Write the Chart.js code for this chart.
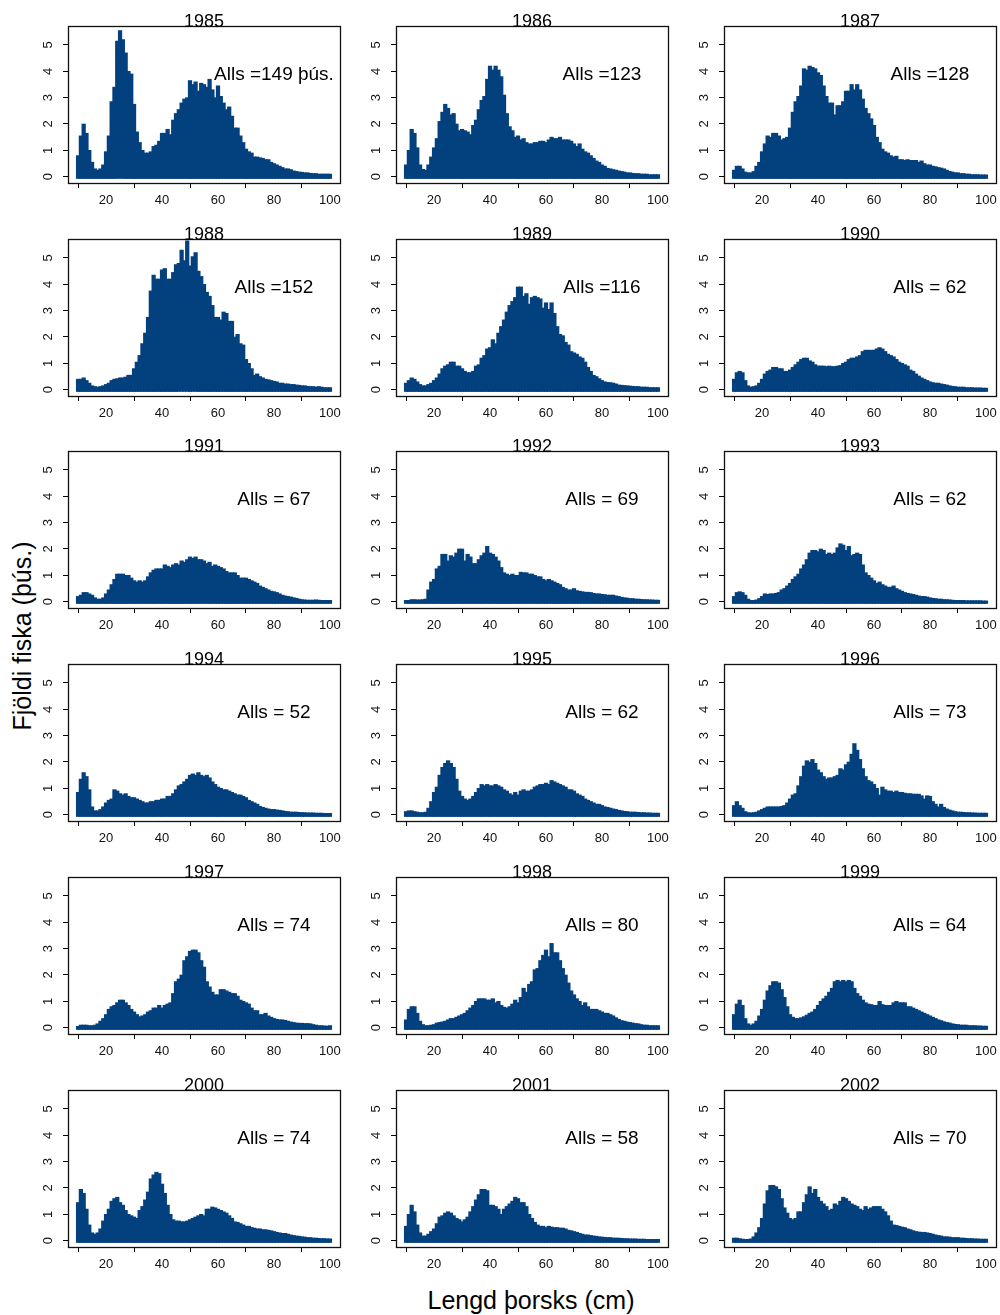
<!DOCTYPE html>
<html>
<head>
<meta charset="utf-8">
<script src="https://cdn.jsdelivr.net/npm/chart.js@4.4.1/dist/chart.umd.min.js"></script>
<style>
  body { margin: 0; background: #fff; }
  #page { position: relative; width: 1000px; height: 1315px; font-family: "Liberation Sans", Arial, sans-serif; overflow: hidden; }
  #page canvas { position: absolute; }
  .axis-title { position: absolute; font-size: 25px; color: #000; white-space: nowrap; line-height: 1; }
  #xtitle { left: 531px; top: 1300px; transform: translate(-50%, -50%); }
  #ytitle { left: 22px; top: 636px; transform: translate(-50%, -50%) rotate(-90deg); }
</style>
</head>
<body>
<div id="page">
  <div class="axis-title" id="xtitle">Lengd þorsks (cm)</div>
  <div class="axis-title" id="ytitle">Fjöldi fiska (þús.)</div>
</div>
<script>
// length classes (cm)
const lengths = [
  10, 11, 12, 13, 14, 15, 16, 17, 18, 19,
  20, 21, 22, 23, 24, 25, 26, 27, 28, 29,
  30, 31, 32, 33, 34, 35, 36, 37, 38, 39,
  40, 41, 42, 43, 44, 45, 46, 47, 48, 49,
  50, 51, 52, 53, 54, 55, 56, 57, 58, 59,
  60, 61, 62, 63, 64, 65, 66, 67, 68, 69,
  70, 71, 72, 73, 74, 75, 76, 77, 78, 79,
  80, 81, 82, 83, 84, 85, 86, 87, 88, 89,
  90, 91, 92, 93, 94, 95, 96, 97, 98, 99,
  100
];
const xTicks = [20, 40, 60, 80, 100];
const yTicks = [0, 1, 2, 3, 4, 5];

const years = ['1985', '1986', '1987', '1988', '1989', '1990', '1991', '1992', '1993',
               '1994', '1995', '1996', '1997', '1998', '1999', '2000', '2001', '2002'];
const allsLabels = ['Alls =149 þús.', 'Alls =123', 'Alls =128', 'Alls =152', 'Alls =116', 'Alls = 62',
                    'Alls = 67', 'Alls = 69', 'Alls = 62', 'Alls = 52', 'Alls = 62', 'Alls = 73',
                    'Alls = 74', 'Alls = 80', 'Alls = 64', 'Alls = 74', 'Alls = 58', 'Alls = 70'];

// numbers (thousands) per length class, one array per year
const y1985 = [
  0.8, 1.55, 2.0, 1.65, 1.0, 0.55, 0.3, 0.25, 0.3, 0.45,
  0.95, 1.55, 2.85, 3.4, 5.15, 5.55, 5.2, 4.7, 4.0, 3.9,
  2.75, 1.7, 1.3, 1.0, 0.9, 0.9, 0.95, 1.15, 1.2, 1.35,
  1.65, 1.65, 1.8, 1.6, 2.15, 2.4, 2.55, 2.8, 2.95, 3.0,
  3.65, 3.5, 3.6, 3.25, 3.55, 3.5, 3.4, 3.7, 3.3, 3.0,
  3.45, 3.05, 2.8, 2.55, 2.65, 2.3, 1.85, 1.85, 1.55, 1.3,
  1.05, 0.95, 0.9, 0.75, 0.75, 0.72, 0.7, 0.65, 0.65, 0.55,
  0.5, 0.45, 0.4, 0.35, 0.3, 0.3, 0.27, 0.22, 0.2, 0.18,
  0.17, 0.15, 0.15, 0.13, 0.12, 0.12, 0.1, 0.1, 0.1, 0.1,
  0.1
];
const y1986 = [
  0.45, 1.0, 1.8, 1.65, 1.1, 0.45, 0.28, 0.25, 0.45, 0.75,
  1.1, 1.45, 2.1, 2.45, 2.75, 2.6, 2.35, 2.4, 2.0, 1.75,
  1.8, 1.75, 1.7, 1.6, 1.95, 2.15, 2.55, 2.9, 3.05, 3.7,
  4.2, 4.05, 4.2, 4.05, 3.8, 3.1, 2.4, 1.9, 1.75, 1.5,
  1.55, 1.4, 1.45, 1.3, 1.25, 1.25, 1.3, 1.3, 1.35, 1.35,
  1.3, 1.4, 1.5, 1.45, 1.45, 1.5, 1.4, 1.4, 1.4, 1.35,
  1.25, 1.15, 1.25, 1.05, 0.95, 0.9, 0.8, 0.7, 0.6, 0.55,
  0.45, 0.4, 0.32, 0.3, 0.27, 0.25, 0.22, 0.2, 0.18, 0.15,
  0.15, 0.13, 0.12, 0.12, 0.1, 0.1, 0.1, 0.08, 0.08, 0.08,
  0.08
];
const y1987 = [
  0.25, 0.4, 0.4, 0.3, 0.18, 0.15, 0.15, 0.2, 0.4, 0.55,
  0.95, 1.25, 1.55, 1.5, 1.65, 1.65, 1.55, 1.4, 1.45, 1.5,
  1.85, 2.45, 2.85, 3.05, 3.45, 4.1, 4.05, 4.2, 4.15, 4.1,
  3.95, 3.85, 3.45, 3.05, 2.8, 2.8, 2.35, 2.7, 2.7, 2.85,
  3.25, 3.25, 3.5, 3.3, 3.5, 3.3, 2.95, 2.6, 2.4, 2.2,
  1.95, 1.5, 1.3, 1.05, 0.95, 0.9, 0.8, 0.75, 0.78, 0.65,
  0.65, 0.62, 0.65, 0.62, 0.62, 0.62, 0.55, 0.6, 0.5, 0.45,
  0.45, 0.4, 0.38, 0.35, 0.33, 0.3, 0.25, 0.2, 0.18, 0.15,
  0.15, 0.12, 0.12, 0.1, 0.1, 0.08, 0.08, 0.08, 0.07, 0.07,
  0.07
];
const y1988 = [
  0.4, 0.4, 0.45, 0.35, 0.25, 0.15, 0.12, 0.1, 0.12, 0.15,
  0.2, 0.25, 0.35, 0.4, 0.42, 0.45, 0.45, 0.48, 0.55, 0.55,
  0.8, 1.05, 1.3, 1.75, 2.15, 2.75, 3.75, 4.35, 4.2, 4.2,
  4.55, 4.6, 4.2, 4.2, 4.45, 4.75, 4.8, 5.3, 4.9, 5.65,
  4.7, 5.05, 5.2, 4.5, 4.3, 4.0, 3.7, 3.55, 3.2, 2.75,
  2.75, 2.65, 2.95, 2.9, 2.6, 2.6, 2.0, 2.1, 1.75, 1.7,
  1.15, 1.0, 0.8, 0.55, 0.6, 0.5, 0.45, 0.4, 0.38, 0.35,
  0.32, 0.3, 0.25, 0.25, 0.22, 0.22, 0.2, 0.2, 0.18, 0.17,
  0.15, 0.15, 0.13, 0.12, 0.12, 0.1, 0.12, 0.1, 0.08, 0.08,
  0.08
];
const y1989 = [
  0.25, 0.35, 0.45, 0.4, 0.3, 0.2, 0.15, 0.15, 0.2, 0.25,
  0.35, 0.45, 0.6, 0.8, 0.9, 0.95, 1.05, 1.05, 0.9, 0.9,
  0.8, 0.7, 0.65, 0.65, 0.7, 0.9, 0.95, 1.2, 1.3, 1.55,
  1.6, 1.9, 1.75, 2.15, 2.4, 2.65, 2.95, 3.2, 3.35, 3.5,
  3.9, 3.9, 3.55, 3.65, 3.25, 3.5, 3.55, 3.5, 3.45, 3.1,
  3.3, 3.05, 3.3, 2.9, 2.4, 2.1, 2.05, 1.8, 1.7, 1.45,
  1.4, 1.35, 1.25, 1.2, 1.05, 0.85, 0.7, 0.55, 0.5, 0.42,
  0.35, 0.3, 0.28, 0.27, 0.25, 0.22, 0.18, 0.17, 0.16, 0.15,
  0.14, 0.13, 0.12, 0.12, 0.1, 0.1, 0.1, 0.08, 0.08, 0.08,
  0.08
];
const y1990 = [
  0.4, 0.65, 0.7, 0.65, 0.35, 0.15, 0.1, 0.12, 0.15, 0.25,
  0.4, 0.6, 0.7, 0.75, 0.85, 0.85, 0.8, 0.8, 0.7, 0.7,
  0.75, 0.85, 0.95, 1.05, 1.15, 1.2, 1.2, 1.1, 1.05, 0.95,
  0.9, 0.9, 0.9, 0.88, 0.9, 0.88, 0.88, 0.9, 0.92, 1.0,
  1.05, 1.15, 1.2, 1.2, 1.25, 1.3, 1.45, 1.5, 1.5, 1.5,
  1.5, 1.55, 1.6, 1.55, 1.45, 1.35, 1.3, 1.25, 1.15, 1.05,
  1.0, 0.95, 0.9, 0.75, 0.7, 0.6, 0.52, 0.45, 0.4, 0.35,
  0.3, 0.27, 0.25, 0.25, 0.22, 0.2, 0.18, 0.15, 0.13, 0.12,
  0.1, 0.1, 0.1, 0.08, 0.08, 0.08, 0.07, 0.07, 0.07, 0.06,
  0.06
];
const y1991 = [
  0.2, 0.25, 0.35, 0.35, 0.3, 0.25, 0.15, 0.1, 0.1, 0.15,
  0.3, 0.45, 0.65, 0.85, 1.05, 1.05, 1.05, 1.0, 1.0, 0.9,
  0.8, 0.75, 0.8, 0.75, 0.8, 0.95, 1.1, 1.2, 1.25, 1.25,
  1.25, 1.4, 1.35, 1.3, 1.4, 1.45, 1.4, 1.55, 1.5, 1.6,
  1.7, 1.65, 1.7, 1.6, 1.6, 1.55, 1.45, 1.5, 1.35, 1.4,
  1.35, 1.3, 1.25, 1.15, 1.1, 1.1, 1.1, 1.0, 0.9, 0.9,
  0.9, 0.85, 0.8, 0.75, 0.7, 0.6, 0.55, 0.5, 0.45, 0.4,
  0.38, 0.35, 0.3, 0.25, 0.22, 0.2, 0.18, 0.15, 0.13, 0.1,
  0.08, 0.07, 0.06, 0.06, 0.06, 0.07, 0.06, 0.05, 0.05, 0.05,
  0.05
];
const y1992 = [
  0.05, 0.05, 0.08, 0.08, 0.07, 0.07, 0.08, 0.1, 0.45, 0.75,
  0.85, 1.25, 1.35, 1.8, 1.8, 1.55, 1.75, 1.7, 1.85, 2.0,
  2.0, 1.55, 1.8, 1.7, 1.45, 1.45, 1.6, 1.75, 1.85, 2.1,
  1.85, 1.8, 1.7, 1.55, 1.3, 1.1, 1.05, 1.0, 1.05, 1.0,
  1.0, 1.12, 1.1, 1.1, 1.05, 1.05, 1.0, 0.95, 0.95, 0.85,
  0.8, 0.85, 0.8, 0.75, 0.7, 0.65, 0.55, 0.5, 0.45, 0.45,
  0.5, 0.42, 0.4, 0.38, 0.36, 0.36, 0.35, 0.32, 0.3, 0.3,
  0.28, 0.27, 0.25, 0.25, 0.25, 0.22, 0.2, 0.17, 0.15, 0.14,
  0.12, 0.12, 0.1, 0.1, 0.09, 0.08, 0.08, 0.07, 0.07, 0.06,
  0.06
];
const y1993 = [
  0.2, 0.35, 0.38, 0.35, 0.25, 0.1, 0.05, 0.05, 0.07, 0.12,
  0.2, 0.3, 0.28, 0.3, 0.3, 0.32, 0.35, 0.45, 0.5, 0.6,
  0.7, 0.85, 0.95, 1.05, 1.25, 1.4, 1.6, 1.85, 1.95, 1.95,
  1.9, 2.0, 1.95, 1.8, 1.85, 1.8, 1.85, 2.05, 2.2, 2.15,
  1.95, 2.1, 1.75, 1.8, 1.85, 1.8, 1.4, 1.1, 1.0, 0.9,
  0.8, 0.7, 0.75, 0.65, 0.6, 0.55, 0.55, 0.6, 0.5, 0.45,
  0.4, 0.35, 0.32, 0.3, 0.28, 0.25, 0.22, 0.2, 0.2, 0.18,
  0.15, 0.13, 0.12, 0.1, 0.1, 0.08, 0.08, 0.07, 0.06, 0.05,
  0.05, 0.05, 0.05, 0.04, 0.04, 0.04, 0.04, 0.04, 0.04, 0.03,
  0.03
];
const y1994 = [
  0.85, 1.35, 1.6, 1.45, 0.95, 0.3, 0.15, 0.15, 0.2, 0.3,
  0.45, 0.55, 0.6, 0.95, 0.9, 0.8, 0.75, 0.8, 0.7, 0.65,
  0.65, 0.6, 0.55, 0.5, 0.45, 0.45, 0.5, 0.5, 0.55, 0.55,
  0.6, 0.6, 0.7, 0.7, 0.8, 0.95, 1.1, 1.15, 1.25, 1.35,
  1.5, 1.55, 1.5, 1.6, 1.5, 1.45, 1.5, 1.4, 1.25, 1.15,
  1.05, 1.0, 0.95, 0.95, 0.9, 0.85, 0.8, 0.75, 0.75, 0.7,
  0.65, 0.55, 0.5, 0.45, 0.4, 0.32, 0.28, 0.25, 0.22, 0.2,
  0.2, 0.18, 0.17, 0.15, 0.13, 0.12, 0.1, 0.1, 0.1, 0.09,
  0.08, 0.08, 0.07, 0.07, 0.07, 0.06, 0.06, 0.06, 0.05, 0.05,
  0.05
];
const y1995 = [
  0.12, 0.15, 0.15, 0.12, 0.1, 0.08, 0.08, 0.1, 0.25, 0.5,
  0.85, 1.05, 1.5, 1.8, 1.95, 2.05, 1.95, 1.8, 1.35, 0.9,
  0.7, 0.6, 0.55, 0.6, 0.7, 0.85, 1.0, 1.15, 1.1, 1.15,
  1.1, 1.1, 1.15, 1.1, 1.05, 0.95, 0.9, 0.8, 0.75, 0.85,
  0.75, 0.9, 0.95, 0.9, 0.9, 0.95, 1.05, 1.1, 1.15, 1.15,
  1.2, 1.15, 1.3, 1.25, 1.2, 1.15, 1.1, 1.05, 0.95, 0.95,
  0.9, 0.8, 0.75, 0.7, 0.6, 0.55, 0.5, 0.45, 0.4, 0.4,
  0.35, 0.3, 0.28, 0.25, 0.22, 0.2, 0.17, 0.15, 0.13, 0.12,
  0.1, 0.1, 0.1, 0.09, 0.08, 0.08, 0.07, 0.07, 0.06, 0.06,
  0.06
];
const y1996 = [
  0.35, 0.5, 0.35, 0.25, 0.12, 0.08, 0.07, 0.08, 0.1, 0.15,
  0.2, 0.25, 0.3, 0.3, 0.3, 0.3, 0.3, 0.32, 0.35, 0.45,
  0.6, 0.75, 0.8, 1.1, 1.45, 1.85, 2.05, 2.0, 2.1, 1.95,
  1.7, 1.6, 1.45, 1.35, 1.4, 1.4, 1.45, 1.5, 1.75, 1.7,
  1.9, 2.0, 2.3, 2.7, 2.45, 2.1, 1.75, 1.45, 1.3, 1.25,
  1.15, 1.0, 0.75, 1.05, 0.95, 0.9, 0.9, 0.85, 0.9, 0.85,
  0.85, 0.82, 0.8, 0.8, 0.78, 0.78, 0.78, 0.72, 0.6, 0.72,
  0.7, 0.5, 0.4, 0.3, 0.4, 0.28, 0.22, 0.18, 0.15, 0.12,
  0.1, 0.1, 0.09, 0.08, 0.08, 0.07, 0.07, 0.06, 0.06, 0.06,
  0.06
];
const y1997 = [
  0.05, 0.1, 0.1, 0.1, 0.08, 0.08, 0.1, 0.15, 0.25, 0.35,
  0.5, 0.7, 0.8, 0.85, 0.95, 1.05, 1.05, 0.95, 0.85, 0.7,
  0.6, 0.5, 0.42, 0.45, 0.5, 0.6, 0.65, 0.75, 0.75, 0.85,
  0.75, 0.85, 0.9, 0.95, 1.3, 1.75, 1.85, 2.0, 2.55, 2.7,
  2.9, 2.95, 2.95, 2.85, 2.55, 2.3, 1.75, 1.55, 1.35, 1.25,
  1.25, 1.45, 1.45, 1.4, 1.35, 1.3, 1.3, 1.2, 1.05, 1.0,
  0.95, 0.9, 0.75, 0.65, 0.65, 0.5, 0.5, 0.55, 0.45, 0.4,
  0.35, 0.32, 0.3, 0.3, 0.28, 0.25, 0.22, 0.2, 0.18, 0.17,
  0.17, 0.16, 0.16, 0.15, 0.12, 0.1, 0.08, 0.08, 0.07, 0.06,
  0.08
];
const y1998 = [
  0.3, 0.7, 0.8, 0.8, 0.55, 0.25, 0.12, 0.08, 0.08, 0.1,
  0.12, 0.18, 0.2, 0.22, 0.25, 0.3, 0.35, 0.35, 0.4, 0.45,
  0.5, 0.55, 0.65, 0.75, 0.85, 1.0, 1.1, 1.1, 1.1, 1.05,
  1.05, 1.1, 0.95, 1.0, 0.85, 0.78, 0.75, 0.8, 0.9, 1.05,
  0.95, 1.15, 1.5, 1.35, 1.65, 1.75, 2.2, 2.25, 2.55, 2.75,
  2.95, 2.7, 3.2, 2.85, 2.85, 2.55, 2.25, 2.0, 1.7, 1.4,
  1.25, 1.1, 1.0, 0.85, 0.95, 0.8, 0.7, 0.7, 0.7, 0.65,
  0.6, 0.55, 0.55, 0.5, 0.45, 0.38, 0.32, 0.27, 0.25, 0.22,
  0.2, 0.18, 0.16, 0.15, 0.12, 0.1, 0.1, 0.08, 0.08, 0.08,
  0.08
];
const y1999 = [
  0.5, 0.9, 1.05, 0.85, 0.35, 0.15, 0.1, 0.15, 0.25, 0.45,
  0.7, 1.05, 1.4, 1.6, 1.75, 1.75, 1.7, 1.45, 1.15, 0.8,
  0.5, 0.4, 0.35, 0.35, 0.38, 0.42, 0.48, 0.55, 0.6, 0.7,
  0.85, 1.0, 1.1, 1.2, 1.35, 1.5, 1.75, 1.8, 1.75, 1.8,
  1.75, 1.8, 1.75, 1.5, 1.3, 1.2, 1.05, 0.95, 0.9, 0.88,
  0.85, 0.85, 1.0, 0.88, 0.85, 0.85, 0.85, 0.95, 1.0, 0.95,
  0.95, 0.95, 0.8, 0.8, 0.75, 0.7, 0.65, 0.6, 0.55, 0.5,
  0.45, 0.4, 0.35, 0.3, 0.27, 0.23, 0.2, 0.18, 0.15, 0.13,
  0.12, 0.1, 0.1, 0.1, 0.08, 0.08, 0.08, 0.07, 0.07, 0.06,
  0.06
];
const y2000 = [
  1.45, 1.95, 1.8, 1.2, 0.6, 0.3, 0.25, 0.3, 0.45, 0.75,
  1.0, 1.2, 1.5, 1.6, 1.65, 1.45, 1.35, 1.15, 1.0, 0.95,
  0.9, 0.85, 1.15, 1.3, 1.55, 1.85, 2.35, 2.5, 2.6, 2.55,
  2.15, 1.8, 1.35, 1.0, 0.8, 0.75, 0.75, 0.72, 0.72, 0.75,
  0.8, 0.85, 0.9, 0.95, 1.0, 0.95, 1.2, 1.2, 1.28, 1.25,
  1.2, 1.15, 1.1, 1.05, 0.95, 0.85, 0.72, 0.7, 0.65, 0.6,
  0.55, 0.55, 0.5, 0.48, 0.45, 0.45, 0.42, 0.42, 0.4, 0.38,
  0.35, 0.32, 0.3, 0.28, 0.28, 0.25, 0.22, 0.2, 0.18, 0.17,
  0.15, 0.14, 0.12, 0.12, 0.1, 0.1, 0.09, 0.08, 0.08, 0.07,
  0.07
];
const y2001 = [
  0.55, 1.0, 1.35, 1.1, 0.6, 0.3, 0.18, 0.18, 0.25, 0.35,
  0.45, 0.65, 0.9, 0.95, 1.05, 1.1, 1.05, 0.95, 0.85, 0.8,
  0.72, 0.8, 0.9, 1.1, 1.3, 1.55, 1.75, 1.95, 1.95, 1.9,
  1.35, 1.35, 1.3, 1.2, 1.0, 1.2, 1.3, 1.4, 1.5, 1.65,
  1.6, 1.45, 1.45, 1.3, 1.0, 0.85, 0.7, 0.6, 0.55, 0.55,
  0.5, 0.55, 0.52, 0.5, 0.5, 0.48, 0.48, 0.45, 0.4, 0.38,
  0.35, 0.32, 0.28, 0.25, 0.22, 0.22, 0.2, 0.18, 0.17, 0.15,
  0.14, 0.13, 0.12, 0.12, 0.1, 0.1, 0.1, 0.09, 0.08, 0.08,
  0.07, 0.07, 0.07, 0.06, 0.06, 0.06, 0.05, 0.05, 0.05, 0.05,
  0.05
];
const y2002 = [
  0.1, 0.1, 0.08, 0.06, 0.05, 0.05, 0.07, 0.15, 0.3, 0.5,
  0.85, 1.4, 1.9, 2.1, 2.1, 2.05, 1.95, 1.6, 1.25, 1.05,
  0.85, 0.8, 0.85, 1.1, 1.1, 1.45, 1.75, 2.05, 1.8, 1.95,
  1.65, 1.5, 1.4, 1.3, 1.15, 1.2, 1.4, 1.35, 1.5, 1.65,
  1.6, 1.5, 1.4, 1.35, 1.3, 1.2, 1.15, 1.3, 1.2, 1.25,
  1.3, 1.3, 1.3, 1.2, 1.1, 0.95, 0.75, 0.6, 0.58, 0.55,
  0.52, 0.5, 0.45, 0.42, 0.38, 0.35, 0.33, 0.32, 0.32, 0.3,
  0.28, 0.25, 0.22, 0.2, 0.18, 0.15, 0.15, 0.14, 0.12, 0.12,
  0.12, 0.1, 0.1, 0.09, 0.08, 0.08, 0.07, 0.07, 0.06, 0.06,
  0.06
];

const counts = [y1985, y1986, y1987, y1988, y1989, y1990, y1991, y1992, y1993,
                y1994, y1995, y1996, y1997, y1998, y1999, y2000, y2001, y2002];

const BLUE = '#03407E';
const FONT = '"Liberation Sans", Arial, Helvetica, sans-serif';

// panel geometry (plot box inside each canvas)
const BOX_W = 272, BOX_H = 157;
const PAD_L = 62, PAD_T = 26, PAD_R = 12, PAD_B = 34;

// year title, "Alls" text and the frame around the plot area
const panelText = {
  id: 'panelText',
  afterDraw(chart, args, opts) {
    const { ctx, chartArea: a, scales } = chart;
    ctx.save();
    ctx.strokeStyle = '#111';
    ctx.lineWidth = 1.3;
    ctx.strokeRect(Math.round(a.left) + 0.5, Math.round(a.top) + 0.5,
                   Math.round(a.right - a.left), Math.round(a.bottom - a.top));
    ctx.fillStyle = '#000';
    ctx.textAlign = 'center';
    ctx.textBaseline = 'alphabetic';
    ctx.font = '18px ' + FONT;
    ctx.fillText(opts.year, (a.left + a.right) / 2, a.top + 1);
    ctx.textBaseline = 'middle';
    ctx.font = '19px ' + FONT;
    ctx.fillText(opts.alls, scales.x.getPixelForValue(80), scales.y.getPixelForValue(3.85));
    ctx.restore();
  }
};

const page = document.getElementById('page');

counts.forEach((series, i) => {
  const col = i % 3, row = Math.floor(i / 3);
  const boxLeft = 68 + 328 * col;
  const boxTop = Math.round(26 + 212.7 * row);

  const canvas = document.createElement('canvas');
  canvas.width = PAD_L + BOX_W + PAD_R;
  canvas.height = PAD_T + BOX_H + PAD_B;
  canvas.style.left = (boxLeft - PAD_L) + 'px';
  canvas.style.top = (boxTop - PAD_T) + 'px';
  page.appendChild(canvas);

  new Chart(canvas, {
    type: 'bar',
    data: {
      datasets: [{
        data: lengths.map((x, k) => ({ x: x, y: series[k] })),
        backgroundColor: BLUE,
        borderWidth: 0,
        barThickness: 3.6,
        base: -0.07
      }]
    },
    options: {
      responsive: false,
      animation: false,
      events: [],
      layout: { padding: { top: PAD_T, right: PAD_R, left: 0, bottom: 0 } },
      plugins: {
        legend: { display: false },
        tooltip: { enabled: false },
        panelText: { year: years[i], alls: allsLabels[i] }
      },
      scales: {
        x: {
          type: 'linear',
          min: 6.4,
          max: 103.6,
          offset: false,
          afterBuildTicks: s => { s.ticks = xTicks.map(v => ({ value: v })); },
          afterFit: s => { s.height = PAD_B; },
          grid: { drawOnChartArea: false, drawTicks: true, tickLength: 5, color: '#000', lineWidth: 1 },
          border: { display: true, color: '#000', width: 1 },
          ticks: { autoSkip: false, maxRotation: 0, padding: 5, color: '#111', font: { family: FONT, size: 13 } }
        },
        y: {
          min: -0.24,
          max: 5.72,
          afterBuildTicks: s => { s.ticks = yTicks.map(v => ({ value: v })); },
          afterFit: s => { s.width = PAD_L; },
          grid: { drawOnChartArea: false, drawTicks: true, tickLength: 5, color: '#000', lineWidth: 1 },
          border: { display: true, color: '#000', width: 1 },
          ticks: { minRotation: 90, maxRotation: 90, crossAlign: 'center', padding: 11, color: '#111', font: { family: FONT, size: 13 } }
        }
      }
    },
    plugins: [panelText]
  });
});
</script>
</body>
</html>
